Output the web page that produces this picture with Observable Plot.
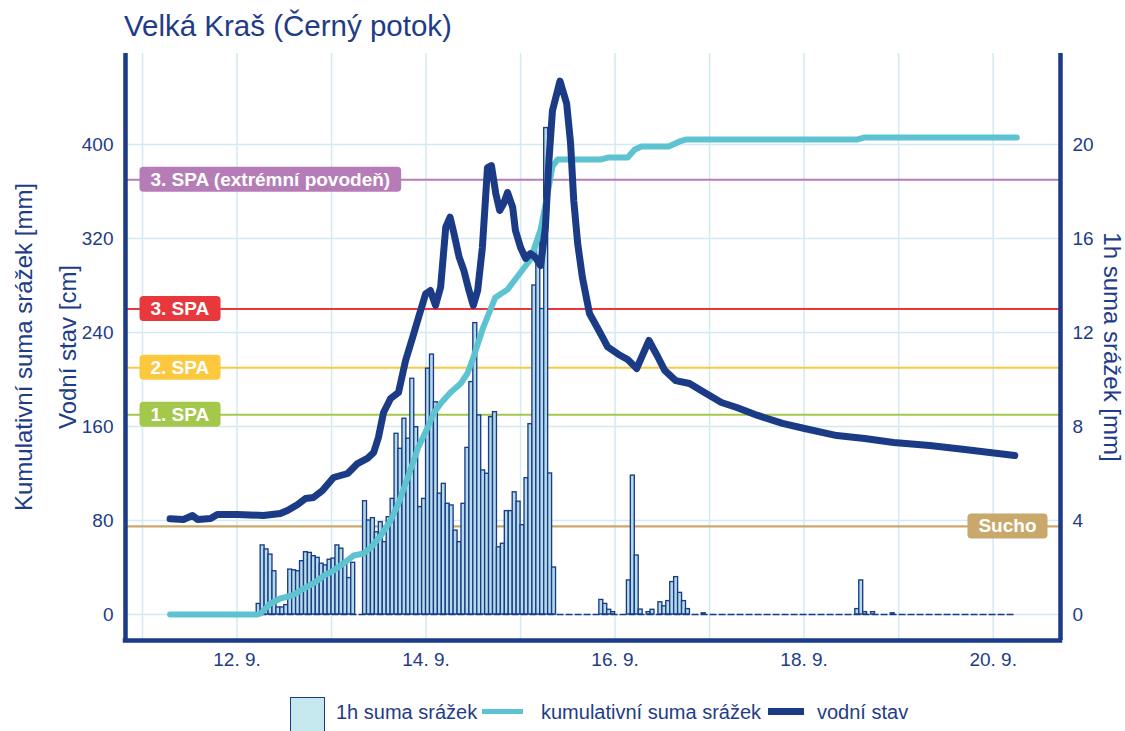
<!DOCTYPE html>
<html>
<head>
<meta charset="utf-8">
<script src="https://cdn.jsdelivr.net/npm/d3@7"></script>
<script src="https://cdn.jsdelivr.net/npm/@observablehq/plot@0.6"></script>
<style>
  body { margin: 0; background: #fff; font-family: "Liberation Sans", Arial, sans-serif; }
  #wrap { position: relative; width: 1125px; height: 731px; overflow: hidden; background: #fff; }
  #title { position: absolute; left: 124px; top: 11px; font-size: 29.5px; line-height: 29.5px; color: #1e3c87; white-space: nowrap; }
  #chart { position: absolute; left: 0; top: 50px; }
  #legend { position: absolute; left: 0; top: 690px; width: 1125px; height: 41px; }
  #legend div { position: absolute; }
  .lt { font-size: 20px; line-height: 20px; top: 12px; color: #1e3c87; white-space: nowrap; }
</style>
</head>
<body>
<div id="wrap">
  <div id="title">Velká Kraš (Černý potok)</div>
  <div id="chart"></div>
  <div id="legend">
    <div style="left:290px;top:7px;width:33px;height:40px;border:1.5px solid #1b3b87;background:#c5e7ee;"></div>
    <div class="lt" style="left:336px;">1h suma srážek</div>
    <div style="left:482px;top:19px;width:41px;height:5px;background:#5dc3d0;"></div>
    <div class="lt" style="left:541px;">kumulativní suma srážek</div>
    <div style="left:768px;top:18px;width:36px;height:7px;background:#1b3b87;"></div>
    <div class="lt" style="left:817px;">vodní stav</div>
  </div>
</div>
<script>
// ---------- data (time = hours since 11. 9. 2024 00:00) ----------
const baseDay = Date.UTC(2024, 8, 11);

// vodní stav [cm]
const levelHours = [7, 10.4, 12.7, 14, 17.3, 19, 24.1, 30.7, 35, 36.8, 39.4, 41.4, 43.4, 45.7, 48.5, 52.1, 54.6, 57.1, 58.7, 59.9, 61.2, 63, 65, 66.8, 68.6, 70.1, 71.9, 73.1, 74.4, 75.7, 77, 78.1, 79.1, 80.4, 81.6, 82.9, 84, 85.1, 86.3, 87.6, 88.6, 89.7, 90.7, 91.7, 92.7, 94, 94.7, 96, 97.3, 98.5, 99.8, 101.1, 102.3, 103.2, 104.1, 106, 107.7, 108.7, 109.5, 110.5, 111.7, 113.5, 116.3, 118.1, 120.9, 123.2, 125.5, 128.6, 130.8, 132.6, 135.4, 138.9, 142.7, 147, 150.9, 156.2, 162.5, 168.1, 176.3, 183.4, 190.7, 199.9, 208.8, 215.1, 221.5];
const levelValues = [81.4, 80.9, 84.3, 80.9, 81.7, 85.1, 85.1, 84.3, 86, 88.5, 93.6, 98.7, 99.6, 105.5, 116.6, 120, 128.5, 132.8, 137.9, 150.6, 171.9, 183.8, 188.9, 216.2, 236, 253, 272.9, 275.7, 263, 278.6, 329.6, 338.1, 324, 304.1, 292.8, 275.7, 263, 275.7, 312.3, 380.4, 382.1, 358.3, 343.8, 349.8, 359.1, 346.4, 326.8, 312.3, 303, 307.2, 303.8, 297, 329.4, 386.4, 428.9, 454, 434.9, 400.9, 352.3, 315.7, 286.8, 256.2, 239.1, 227.7, 221.3, 217, 209.4, 233.2, 219.6, 207.7, 199.1, 196.6, 188.9, 180.4, 176.2, 169.4, 162.6, 158.3, 152.3, 149.8, 146.4, 143.8, 140.4, 137.9, 135.3];

// kumulativní suma srážek [mm]
const cumHours = [7, 29.2, 30, 32.5, 35, 38, 41, 43.7, 46.2, 48.5, 51, 53.6, 56.1, 58, 60.5, 63, 65, 66.8, 68.6, 70, 72.4, 73.9, 75.7, 78.2, 80.8, 82.5, 84, 86.6, 89.6, 92.7, 95.2, 98.5, 101.1, 102.9, 104.1, 105.4, 116.3, 118.1, 123.2, 125, 126.7, 133.6, 136.4, 138.2, 181.6, 183.4, 222];
const cumValues = [0, 0, 0.85, 9.4, 13.6, 16.2, 22.1, 27.2, 33.2, 37.4, 43.4, 50.2, 51.9, 57, 67.2, 80, 94.5, 111.5, 128.5, 142.1, 159.1, 171, 179.6, 188.9, 196.6, 205.1, 218.7, 245.1, 269.8, 276.6, 287.7, 302.1, 327.7, 359.1, 381.3, 387.2, 387.2, 388.9, 388.9, 395.7, 398.3, 398.3, 402.6, 404.3, 404.3, 406, 406];

// 1h suma srážek [mm]: hourly series starting at hour 29 (12. 9. 05:00)
const rainMainStart = 29;
const rainMain = [0.45, 2.94, 2.77, 2.55, 1.84, 0.3, 0.3, 0.4, 1.91, 1.88, 1.84, 2.27, 2.65, 2.62, 2.48, 2.41, 2.16, 2.09, 2.33, 2.38, 2.94, 2.8, 2.16, 1.55, 2.2, 0, 0, 4.82, 4.0, 4.1, 3.5, 3.93, 3.08, 4.14, 4.92, 7.69, 7.05, 8.33, 7.48, 10.03, 7.97, 4.57, 4.92, 10.46, 11.06, 9.03, 5.14, 5.56, 4.71, 4.64, 3.57, 3.08, 4.71, 7.09, 9.89, 12.4, 8.47, 6.13, 5.99, 8.4, 8.61, 2.86, 3.01, 4.4, 4.4, 5.2, 4.8, 3.8, 5.8, 8.1, 14.0, 16.0, 13.0, 20.7, 6.0, 2.0];
// later sparse showers
const rainLateHours = [116, 117, 118, 119, 123, 124, 125, 126, 128, 129, 131, 132, 133, 134, 135, 136, 137, 138, 142, 181, 182, 183, 185, 190];
const rainLateValues = [0.62, 0.45, 0.2, 0.1, 1.45, 5.91, 2.51, 0.21, 0.1, 0.2, 0.52, 0.35, 0.57, 1.38, 1.59, 0.92, 0.57, 0.23, 0.05, 0.23, 1.45, 0.1, 0.1, 0.05];

// stupně povodňové aktivity [cm]
const spaNames = ["3. SPA (extrémní povodeň)", "3. SPA", "2. SPA", "1. SPA", "Sucho"];
const spaValues = [370, 260, 210, 170, 75];
const spaColors = ["#b57cb7", "#e8383b", "#fcc83e", "#a3c84b", "#c8a86b"];
const spaSide = ["left", "left", "left", "left", "right"];

// axes
const leftTicks = [0, 80, 160, 240, 320, 400];
const rightFactor = 20;            // 1 mm (right axis) = 20 units (left axis)
const gridDays = [11, 12, 13, 14, 15, 16, 17, 18, 19, 20];
const labelDays = [12, 14, 16, 18, 20];
const xDomainHours = [-4.32, 233.1];
const yDomain = [-22.13, 477.45];

// ---------- build ----------
const navy = "#1b3b87";
const textColor = "#1e3c87";
const cyan = "#5dc3d0";
const gridColor = "#d2ebf2";

const toDate = h => new Date(baseDay + h * 3600e3);
const dayDate = d => new Date(Date.UTC(2024, 8, d));

const level = levelHours.map((h, i) => ({t: toDate(h), v: levelValues[i]}));
const cum = cumHours.map((h, i) => ({t: toDate(h), v: cumValues[i]}));
const rain = rainMain.map((v, i) => ({h: rainMainStart + i, v}))
  .concat(rainLateHours.map((h, i) => ({h, v: rainLateValues[i]})))
  .filter(d => d.v > 0);
const spa = spaNames.map((n, i) => ({name: n, v: spaValues[i], color: spaColors[i], side: spaSide[i]}));
const xDom = xDomainHours.map(toDate);

const plot = Plot.plot({
  width: 1125,
  height: 640,
  marginLeft: 125,
  marginRight: 65,
  marginTop: 3,
  marginBottom: 50,
  style: {fontFamily: '"Liberation Sans", Arial, sans-serif', fontSize: "19px", color: textColor, background: "#fff", overflow: "visible"},
  x: {type: "utc", domain: xDom},
  y: {domain: yDomain},
  color: {type: "identity"},
  marks: [
    Plot.gridX(gridDays.map(dayDate), {stroke: gridColor, strokeOpacity: 1, strokeWidth: 1.5}),
    Plot.gridY(leftTicks, {stroke: gridColor, strokeOpacity: 1, strokeWidth: 1.5}),
    Plot.ruleY(spa, {y: "v", stroke: "color", strokeWidth: 2.2}),
    Plot.rect(rain, {x1: d => toDate(d.h), x2: d => toDate(d.h + 1), y1: 0, y2: d => d.v * rightFactor, fill: "#b3dbe8", stroke: navy, strokeWidth: 1.35}),
    Plot.ruleY([0], {x1: toDate(levelHours[0]), x2: toDate(levelHours[levelHours.length - 1]), stroke: navy, strokeWidth: 1.6, strokeDasharray: "7,2"}),
    Plot.line(cum, {x: "t", y: "v", stroke: cyan, strokeWidth: 6, strokeLinejoin: "round"}),
    Plot.line(level, {x: "t", y: "v", stroke: navy, strokeWidth: 7, strokeLinejoin: "round"}),
    Plot.ruleX([xDom[0]], {stroke: navy, strokeWidth: 4.5}),
    Plot.ruleX([xDom[1]], {stroke: navy, strokeWidth: 4.5}),
    Plot.ruleY([yDomain[0]], {stroke: navy, strokeWidth: 4.5, strokeLinecap: "square"}),
    Plot.axisY(leftTicks, {anchor: "left", tickSize: 0, tickPadding: 12, label: null, fontSize: 19, fill: textColor}),
    Plot.axisY(leftTicks, {anchor: "right", tickSize: 0, tickPadding: 12, label: null, fontSize: 19, fill: textColor, tickFormat: d => d / rightFactor}),
    Plot.axisX(labelDays.map(dayDate), {anchor: "bottom", tickSize: 0, tickPadding: 12, label: null, fontSize: 19, fill: textColor, tickFormat: d3.utcFormat("%-d. %-m.")}),
    Plot.text(spa.filter(d => d.side === "left"), {y: "v", text: "name", frameAnchor: "left", dx: 25, textAnchor: "start", fill: "white", fontWeight: "bold", fontSize: 19}),
    Plot.text(spa.filter(d => d.side === "right"), {y: "v", text: "name", frameAnchor: "right", dx: -24, textAnchor: "end", fill: "white", fontWeight: "bold", fontSize: 19}),
    Plot.text(["Kumulativní suma srážek [mm]"], {text: d => d, frameAnchor: "left", rotate: -90, dx: -94, lineAnchor: "bottom", textAnchor: "middle", fontSize: 24, fill: textColor}),
    Plot.text(["Vodní stav [cm]"], {text: d => d, frameAnchor: "left", rotate: -90, dx: -50, lineAnchor: "bottom", textAnchor: "middle", fontSize: 24, fill: textColor}),
    Plot.text(["1h suma srážek [mm]"], {text: d => d, frameAnchor: "right", rotate: 90, dx: 43, lineAnchor: "bottom", textAnchor: "middle", fontSize: 24, fill: textColor})
  ]
});
document.getElementById("chart").appendChild(plot);

// rounded label boxes behind the SPA texts (matched by their text)
const ns = "http://www.w3.org/2000/svg";
plot.querySelectorAll("text").forEach(t => {
  const item = spa.find(d => d.name === t.textContent);
  if (!item) return;
  const b = t.getBBox();
  const r = document.createElementNS(ns, "rect");
  const cy = b.y + b.height / 2;
  r.setAttribute("x", b.x - 11);
  r.setAttribute("y", cy - 12.5);
  r.setAttribute("width", b.width + 22);
  r.setAttribute("height", 25);
  r.setAttribute("rx", 4);
  r.setAttribute("fill", item.color);
  const tr = t.getAttribute("transform");
  if (tr) r.setAttribute("transform", tr);
  t.parentNode.insertBefore(r, t);
});
</script>
</body>
</html>
